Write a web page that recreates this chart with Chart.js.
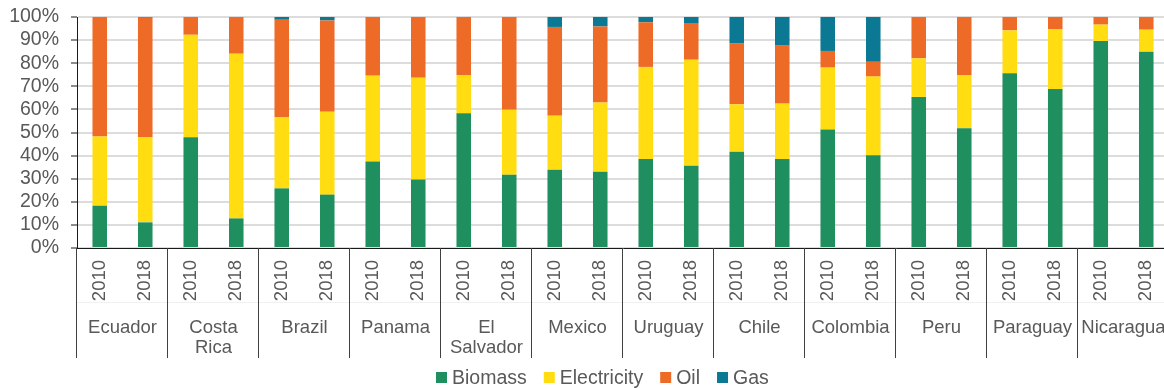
<!DOCTYPE html>
<html>
<head>
<meta charset="utf-8">
<script src="https://cdn.jsdelivr.net/npm/chart.js@4.4.1/dist/chart.umd.min.js"></script>
<style>
  html, body { margin: 0; padding: 0; background: #ffffff; overflow: hidden; }
  #wrap { position: absolute; left: 0; top: 0; width: 1170px; height: 388px; }
  canvas { display: block; }
</style>
</head>
<body>
<div id="wrap"><canvas id="c" width="1170" height="388"></canvas></div>
<script>
// ---- Data ----
const countries = ['Ecuador', 'Costa Rica', 'Brazil', 'Panama', 'El Salvador', 'Mexico',
                   'Uruguay', 'Chile', 'Colombia', 'Peru', 'Paraguay', 'Nicaragua'];
const countryLines = [['Ecuador'], ['Costa', 'Rica'], ['Brazil'], ['Panama'], ['El', 'Salvador'], ['Mexico'],
                      ['Uruguay'], ['Chile'], ['Colombia'], ['Peru'], ['Paraguay'], ['Nicaragua']];
const years = ['2010', '2018'];
const yTicks = [0, 10, 20, 30, 40, 50, 60, 70, 80, 90, 100];

const biomass     = [18.3, 11.1, 47.9, 12.8, 25.8, 23.1, 37.4, 29.6, 58.3, 31.7, 33.9, 33.0,
                     38.5, 35.6, 41.7, 38.5, 51.3, 40.1, 65.4, 51.8, 75.6, 68.8, 89.6, 85.0];
const electricity = [30.0, 36.9, 44.4, 71.3, 30.9, 35.9, 37.2, 44.1, 16.6, 28.2, 23.4, 30.0,
                     39.9, 45.9, 20.5, 24.0, 26.8, 34.1, 16.7, 23.1, 18.6, 26.0, 7.1, 9.5];
const oil         = [51.7, 51.7, 7.7, 15.9, 42.1, 39.5, 25.4, 26.3, 25.1, 40.1, 38.4, 32.9,
                     19.3, 15.6, 26.5, 25.1, 7.2, 6.4, 17.9, 25.1, 5.8, 5.2, 3.3, 5.5];
const gas         = [0, 0.3, 0, 0, 1.2, 1.5, 0, 0, 0, 0, 4.3, 4.1,
                     2.3, 2.9, 11.3, 12.4, 14.7, 19.4, 0, 0, 0, 0, 0, 0];

const labels = [];
countries.forEach(() => years.forEach(y => labels.push(y)));

const COLORS = { Biomass: '#1F8F5F', Electricity: '#FFDD11', Oil: '#EE6A27', Gas: '#0B7894' };
const FONT = "'Liberation Sans', Arial, sans-serif";
const TEXT = '#595959';

const groupPlugin = {
  id: 'groupPlugin',
  afterDraw(chart) {
    const ctx = chart.ctx;
    const x = chart.scales.x;
    const axisY = chart.chartArea.bottom;
    ctx.save();
    ctx.strokeStyle = '#f0f0f0';
    ctx.lineWidth = 1;
    ctx.beginPath();
    ctx.moveTo(chart.chartArea.left, 302.5);
    ctx.lineTo(chart.chartArea.right, 302.5);
    ctx.stroke();
    ctx.strokeStyle = '#404040';
    ctx.lineWidth = 1;
    for (let i = 0; i <= countries.length; i++) {
      const px = Math.round(x.getPixelForValue(2 * i - 0.5)) - 0.5;
      ctx.beginPath();
      ctx.moveTo(px, axisY);
      ctx.lineTo(px, 358);
      ctx.stroke();
    }
    ctx.fillStyle = TEXT;
    ctx.font = '18.5px ' + FONT;
    ctx.textAlign = 'center';
    ctx.textBaseline = 'alphabetic';
    countryLines.forEach((lines, i) => {
      const cx = (x.getPixelForValue(2 * i) + x.getPixelForValue(2 * i + 1)) / 2;
      lines.forEach((ln, j) => ctx.fillText(ln, cx, 332.5 + j * 20.5));
    });
    const items = chart.data.datasets.map(d => ({ text: d.label, color: d.backgroundColor }));
    ctx.font = '19.5px ' + FONT;
    const box = 11, gap = 5, sep = 17;
    let lx = 436;
    ctx.textAlign = 'left';
    items.forEach(it => {
      const w = ctx.measureText(it.text).width;
      ctx.fillStyle = it.color;
      ctx.fillRect(lx, 372, box, box);
      ctx.fillStyle = TEXT;
      ctx.fillText(it.text, lx + box + gap, 383.5);
      lx += box + gap + w + sep;
    });
    ctx.restore();
  }
};

const mk = (label, data) => ({
  label, data, backgroundColor: COLORS[label], borderWidth: 0,
  barPercentage: 0.32, categoryPercentage: 1.0, stack: 's'
});

new Chart(document.getElementById('c'), {
  type: 'bar',
  data: {
    labels,
    datasets: [mk('Biomass', biomass), mk('Electricity', electricity), mk('Oil', oil), mk('Gas', gas)]
  },
  options: {
    responsive: false,
    animation: false,
    devicePixelRatio: 1,
    layout: { autoPadding: false, padding: { top: 17, right: 1, left: 0, bottom: 0 } },
    plugins: { legend: { display: false }, tooltip: { enabled: false } },
    scales: {
      x: {
        stacked: true,
        grid: { display: false, drawTicks: false },
        border: { display: true, color: '#1a1a1a', width: 1 },
        ticks: {
          autoSkip: false, maxRotation: 90, minRotation: 90, padding: 12,
          color: TEXT, font: { family: FONT, size: 18.5 }
        },
        afterFit(s) { s.height = 140; s.paddingLeft = 0; s.paddingRight = 0; }
      },
      y: {
        stacked: true,
        min: 0, max: 100,
        grid: { color: '#dcdcdc', lineWidth: 2, drawTicks: true, tickLength: 6, tickColor: '#1a1a1a', tickWidth: 1 },
        border: { display: true, color: '#1a1a1a', width: 1 },
        ticks: {
          autoSkip: false, stepSize: 10, padding: 12, color: TEXT, font: { family: FONT, size: 19.5 },
          callback: v => v + '%'
        },
        afterBuildTicks(s) { s.ticks = yTicks.map(v => ({ value: v })); },
        afterFit(s) { s.width = 77; s.paddingTop = 0; s.paddingBottom = 0; }
      }
    }
  },
  plugins: [groupPlugin]
});
</script>
</body>
</html>
